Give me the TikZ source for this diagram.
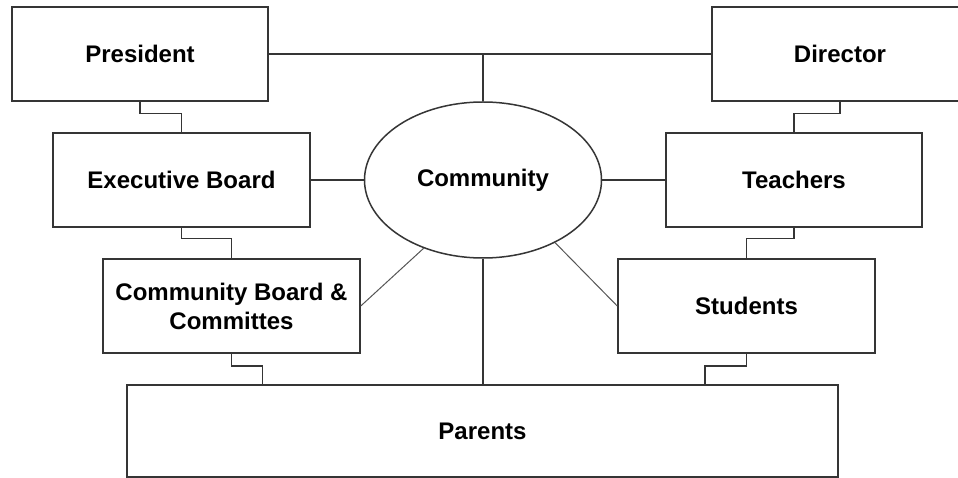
\documentclass[tikz,border=0pt]{standalone}
\usepackage{fontspec}
\setmainfont{Liberation Sans}
\usetikzlibrary{shapes.geometric}
\definecolor{edge}{HTML}{353535}
\definecolor{thin}{HTML}{555555}
\begin{document}
\begin{tikzpicture}[x=1pt,y=-1pt,
  box/.style={draw=edge,line width=1.5pt,fill=white,rectangle,inner sep=0pt,
    font=\fontsize{24}{29}\selectfont\bfseries,align=center},
  conn/.style={draw=edge,line width=1.5pt},
  diag/.style={draw=thin,line width=1pt}]
\clip (0,0) rectangle (958,478);
\fill[white] (0,0) rectangle (958,478);
\node[box,minimum width=256pt,minimum height=94pt] (pres) at (140,54) {President};
\node[box,minimum width=256pt,minimum height=94pt] (dir) at (840,54) {Director};
\node[box,minimum width=257pt,minimum height=94pt] (exec) at (181.5,180) {Executive Board};
\node[box,minimum width=256pt,minimum height=94pt] (teach) at (794,180) {Teachers};
\node[box,minimum width=257pt,minimum height=94pt] (cb) at (231.5,306) {Community Board \&\\Committes};
\node[box,minimum width=257pt,minimum height=94pt] (stud) at (746.5,306) {Students};
\node[box,minimum width=711pt,minimum height=92pt] (par) at (482.5,431) {Parents};
\node[draw=edge,line width=1.5pt,ellipse,minimum width=237pt,minimum height=156pt,inner sep=0pt,
  font=\fontsize{24}{29}\selectfont\bfseries] (comm) at (483,180) {Community};
\coordinate (pl) at ([xshift=136pt]par.north west);
\coordinate (pr) at ([xshift=-134pt]par.north east);
\draw[conn] (pres.east) -- (dir.west);
\draw[conn] (comm.north) -- (comm.north |- pres.east);
\draw[conn] (exec.east) -- (comm.west);
\draw[conn] (comm.east) -- (teach.west);
\draw[conn] (comm.south) -- (comm.south |- par.north);
\draw[conn] (pres.south) -- ++(0,12) -| (exec.north);
\draw[conn] (dir.south) -- ++(0,12) -| (teach.north);
\draw[conn] (exec.south) -- ++(0,11) -| (cb.north);
\draw[conn] (teach.south) -- ++(0,11) -| (stud.north);
\draw[conn] (cb.south) -- ++(0,12) -| (pl);
\draw[conn] (stud.south) -- ++(0,12) -| (pr);
\draw[diag] (cb.east) -- (comm.229);
\draw[diag] (comm.319) -- (stud.west);
\end{tikzpicture}
\end{document}
